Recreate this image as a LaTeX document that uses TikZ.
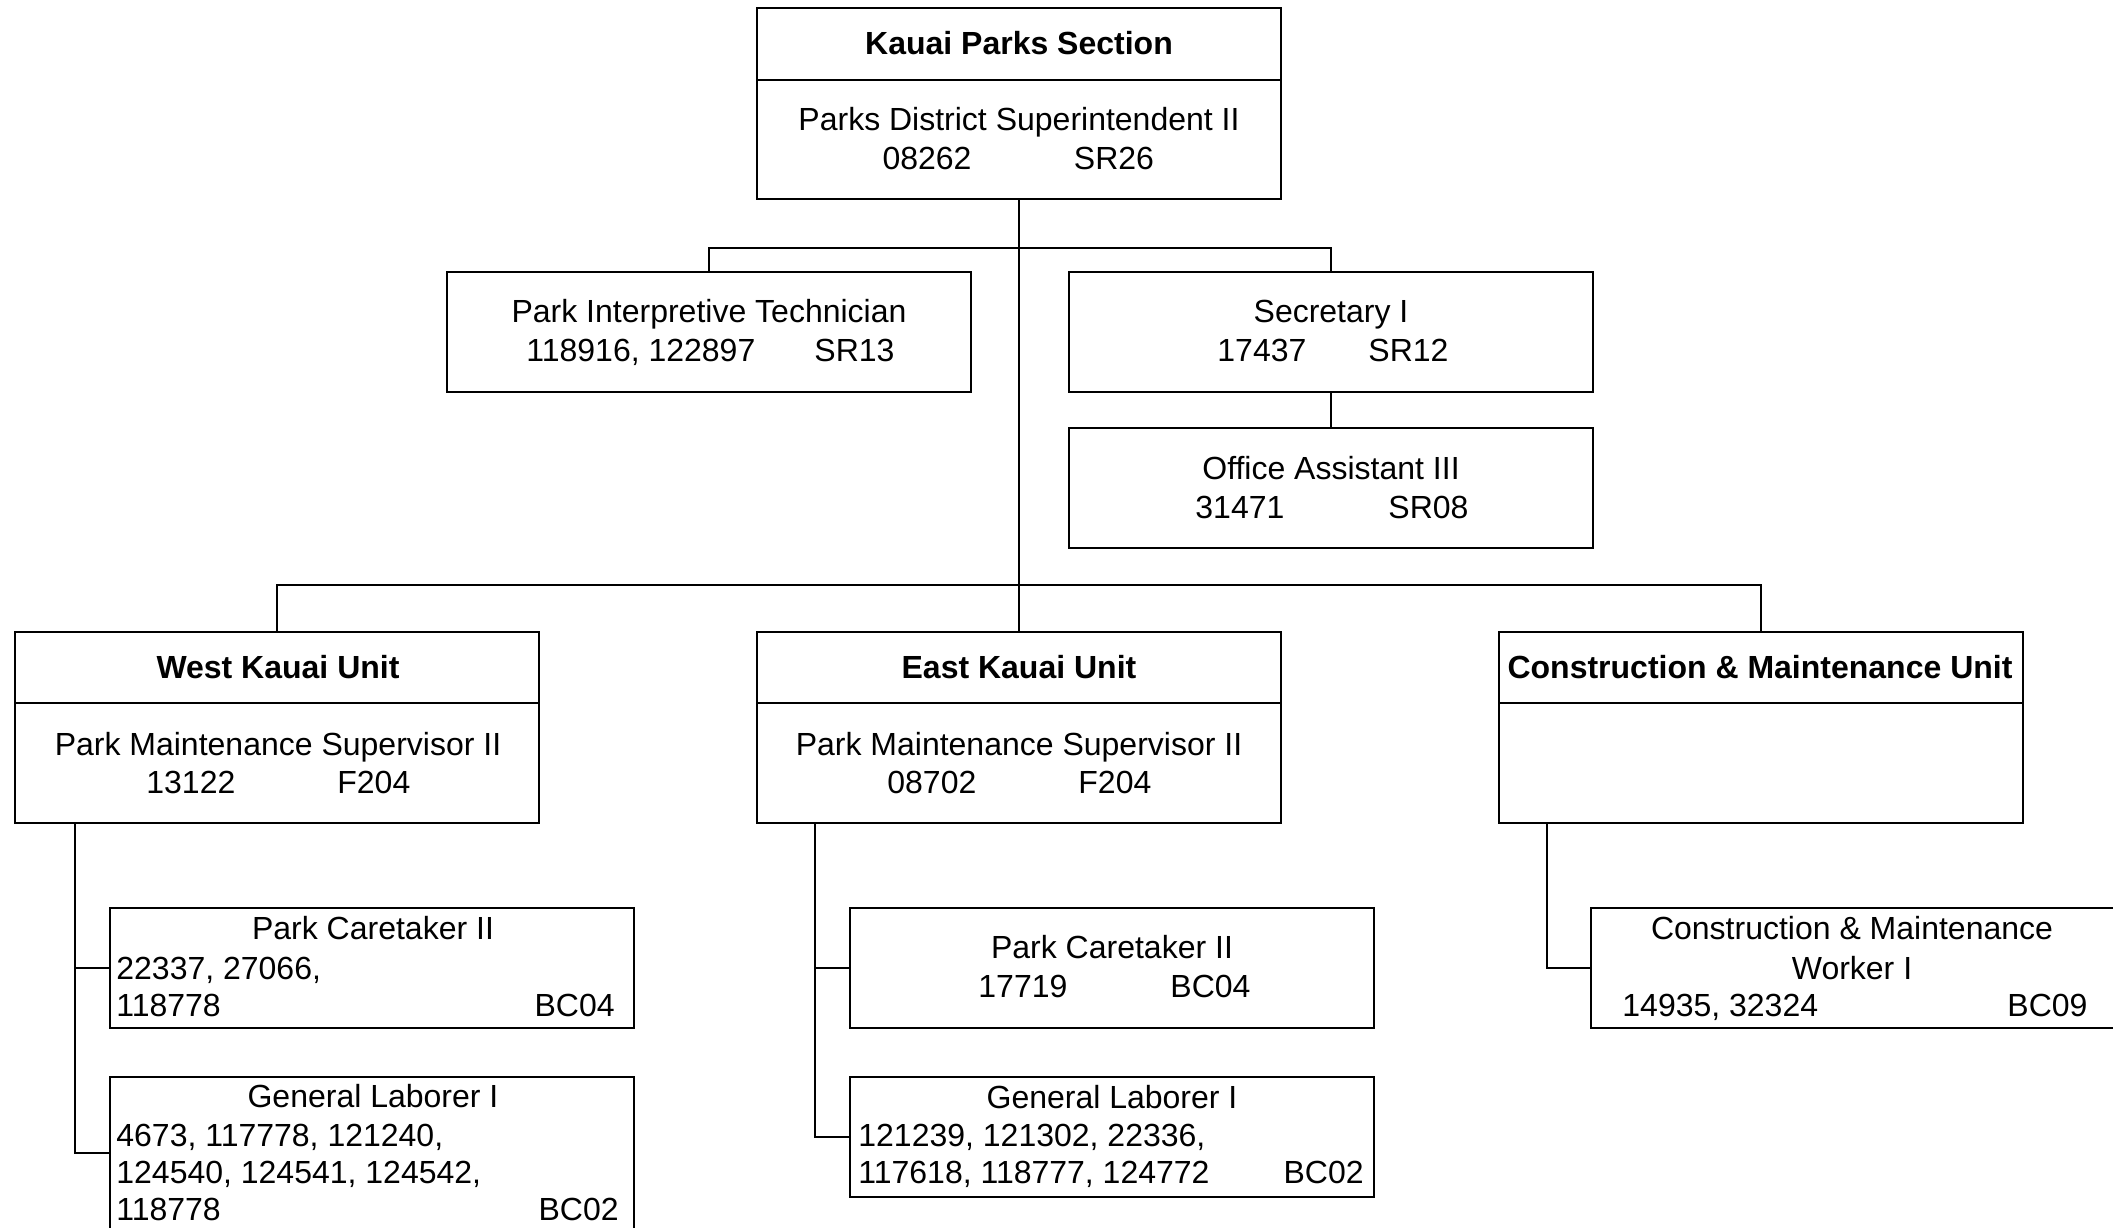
\documentclass[tikz,border=0pt]{standalone}
\usepackage{fontspec}
\setmainfont{Liberation Sans}
\begin{document}
\begin{tikzpicture}[x=0.5pt,y=-0.5pt,
  box/.style={draw, line width=1.1pt, rectangle, anchor=north west, minimum width=262pt, inner sep=0pt, outer sep=0pt},
  hbox/.style={box, minimum height=95.5pt},
  pbox/.style={box, minimum height=60pt},
  tallbox/.style={box, minimum height=76pt},
  txt/.style={anchor=base, inner sep=0pt, font=\fontsize{16}{19}\selectfont},
  ltxt/.style={txt, anchor=base west},
  rtxt/.style={txt, anchor=base east},
  btxt/.style={txt, font=\fontsize{16}{19}\selectfont\bfseries},
  conn/.style={line width=1.1pt}
]
\useasboundingbox[fill=white] (0,0) rectangle (2113,1227);

% boxes
\node[hbox] (top) at (757,8) {};
\node[pbox] (pit) at (447,272) {};
\node[pbox] (sec) at (1069,272) {};
\node[pbox] (oa) at (1069,428) {};
\node[hbox] (west) at (15,632) {};
\node[hbox] (east) at (757,632) {};
\node[hbox] (cm) at (1499,632) {};
\node[pbox] (wpc) at (110,908) {};
\node[tallbox] (wgl) at (110,1077) {};
\node[pbox] (epc) at (850,908) {};
\node[pbox] (egl) at (850,1077) {};
\node[pbox] (cmw) at (1591,908) {};

% header dividers
\foreach \b/\s in {top/36pt, west/35.5pt, east/35.5pt, cm/35.5pt}
  \draw[conn] ([yshift=-\s]\b.north west) -- ([yshift=-\s]\b.north east);

% connectors
\draw[conn] (top.south) -- (east.north);
\draw[conn] (pit.north) -- ++(0,-24) -| (sec.north);
\draw[conn] (sec.south) -- (oa.north);
\draw[conn] (west.north) -- ++(0,-47) -| (cm.north);
\coordinate (wd) at ([xshift=30pt]west.south west);
\draw[conn] (wd) |- (wpc.west);
\draw[conn] (wd) |- (wgl.west);
\coordinate (ed) at ([xshift=29pt]east.south west);
\draw[conn] (ed) |- (epc.west);
\draw[conn] (ed) |- (egl.west);
\coordinate (cd) at ([xshift=24pt]cm.south west);
\draw[conn] (cd) |- (cmw.west);

% texts: top
\node[btxt] (t1) at (1019,54) {Kauai Parks Section};
\node[txt] (t2) at (1019,130) {Parks District Superintendent II};
\node[txt] (t3) at (927,169) {08262};
\node[txt] (t4) at (1114,169) {SR26};

% PIT
\node[txt] (p1) at (709,322) {Park Interpretive Technician};
\node[ltxt] (p2) at (526,361) {118916, 122897};
\node[ltxt] (p3) at (814,361) {SR13};

% Secretary
\node[txt] (s1) at (1331,322) {Secretary I};
\node[ltxt] (s2) at (1217,361) {17437};
\node[ltxt] (s3) at (1368,361) {SR12};

% Office Assistant
\node[txt] (o1) at (1331,479) {Office Assistant III};
\node[ltxt] (o2) at (1195,518) {31471};
\node[ltxt] (o3) at (1388,518) {SR08};

% West
\node[btxt] (w1) at (278,678) {West Kauai Unit};
\node[txt] (w2) at (278,755) {Park Maintenance Supervisor II};
\node[ltxt] (w3) at (146,793) {13122};
\node[ltxt] (w4) at (337,793) {F204};

% East
\node[btxt] (e1) at (1019,678) {East Kauai Unit};
\node[txt] (e2) at (1019,755) {Park Maintenance Supervisor II};
\node[ltxt] (e3) at (887,793) {08702};
\node[ltxt] (e4) at (1078,793) {F204};

% C&M
\node[btxt] (c1) at (1760,678) {Construction \& Maintenance Unit};

% West Park Caretaker II
\node[txt] (wp1) at (373,939) {Park Caretaker II};
\node[ltxt] (wp2) at (116,979) {22337, 27066,};
\node[ltxt] (wp3) at (116,1016) {118778};
\node[rtxt] (wp4) at (615,1016) {BC04};

% West General Laborer I
\node[txt] (wg1) at (373,1107) {General Laborer I};
\node[ltxt] (wg2) at (116,1146) {4673, 117778, 121240,};
\node[ltxt] (wg3) at (116,1183) {124540, 124541, 124542,};
\node[ltxt] (wg4) at (116,1220) {118778};
\node[rtxt] (wg5) at (619,1220) {BC02};

% East Park Caretaker II
\node[txt] (ep1) at (1112,958) {Park Caretaker II};
\node[ltxt] (ep2) at (978,997) {17719};
\node[ltxt] (ep3) at (1170,997) {BC04};

% East General Laborer I
\node[txt] (eg1) at (1112,1108) {General Laborer I};
\node[ltxt] (eg2) at (858,1146) {121239, 121302, 22336,};
\node[ltxt] (eg3) at (858,1183) {117618, 118777, 124772};
\node[rtxt] (eg4) at (1364,1183) {BC02};

% C&M Worker
\node[txt] (cw1) at (1852,939) {Construction \& Maintenance};
\node[txt] (cw2) at (1852,979) {Worker I};
\node[ltxt] (cw3) at (1622,1016) {14935, 32324};
\node[ltxt] (cw4) at (2007,1016) {BC09};
\end{tikzpicture}
\end{document}
